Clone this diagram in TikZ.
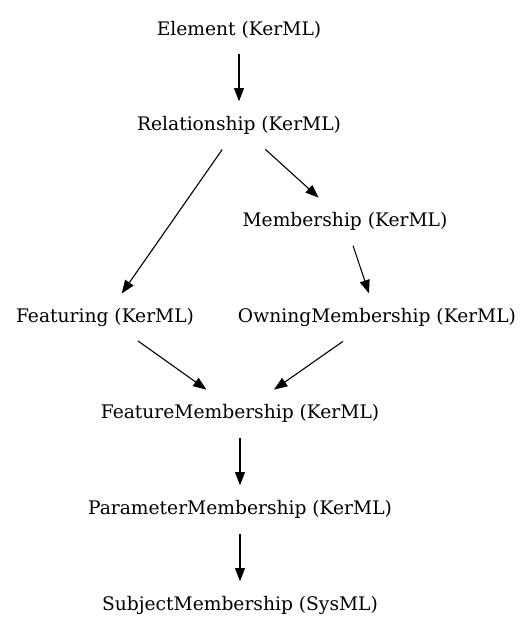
\documentclass[tikz,border=0pt]{standalone}
\usepackage{fontspec}
\setmainfont{DejaVu Serif}
\usetikzlibrary{arrows.meta,shapes.geometric}
\begin{document}
\begin{tikzpicture}[x=1pt,y=-1pt,
  cls/.style={ellipse,draw=none,inner xsep=3pt,inner ysep=0pt,minimum height=48pt,
    font=\fontsize{18.67}{22}\selectfont},
  edge/.style={line width=1.1pt,-{Triangle[length=13.3pt,width=10pt]}}]
\useasboundingbox (0,0) rectangle (531,635);
\node[cls] (el) at (239,29.5) {Element (KerML)};
\node[cls] (rel) at (239,125.5) {Relationship (KerML)};
\node[cls] (mem) at (345,221.5) {Membership (KerML)};
\node[cls] (fea) at (105,317.5) {Featuring (KerML)};
\node[cls] (own) at (377,317.5) {OwningMembership (KerML)};
\node[cls] (fm) at (240,413.5) {FeatureMembership (KerML)};
\node[cls] (pm) at (240,509.5) {ParameterMembership (KerML)};
\node[cls] (sm) at (240,605.5) {SubjectMembership (SysML)};
\draw[edge] (el) -- (rel);
\draw[edge] (rel) -- (fea);
\draw[edge] (rel) -- (mem);
\draw[edge] (mem) -- (own);
\draw[edge] (fea) -- (fm);
\draw[edge] (own) -- (fm);
\draw[edge] (fm) -- (pm);
\draw[edge] (pm) -- (sm);
\end{tikzpicture}
\end{document}
